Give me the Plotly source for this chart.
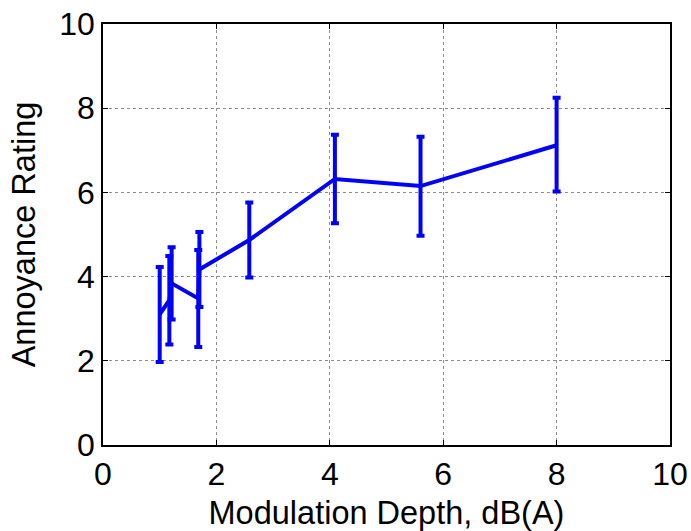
import plotly.graph_objects as go

depth = [1.0, 1.17, 1.21, 1.68, 1.70, 2.58, 4.09, 5.60, 8.0]
rating = [3.10, 3.44, 3.84, 3.48, 4.17, 4.87, 6.32, 6.15, 7.12]
err_up = [1.13, 1.05, 0.86, 1.15, 0.89, 0.89, 1.05, 1.17, 1.13]
err_down = [1.13, 1.05, 0.86, 1.15, 0.89, 0.89, 1.05, 1.18, 1.10]

x_ticks = [0, 2, 4, 6, 8, 10]
y_ticks = [0, 2, 4, 6, 8, 10]

BLUE = "#0000ff"
FONT = "Liberation Sans, Arial, sans-serif"

fig = go.Figure()
fig.add_trace(go.Scatter(
    x=depth, y=rating, mode="lines",
    line=dict(color=BLUE, width=4),
    error_y=dict(type="data", symmetric=False, array=err_up, arrayminus=err_down,
                 color=BLUE, thickness=4, width=4),
    showlegend=False,
))

axis_common = dict(
    showline=True, linecolor="black", linewidth=1.5, mirror="ticks",
    ticks="inside", ticklen=5, tickwidth=1, tickcolor="black",
    showgrid=True, gridcolor="#8c8c8c", gridwidth=1, griddash="dot",
    zeroline=False, automargin=False,
    tickfont=dict(family=FONT, size=32, color="black"),
)

fig.update_layout(
    width=691, height=531,
    margin=dict(l=103, r=21, t=24, b=86),
    paper_bgcolor="white", plot_bgcolor="white",
    font=dict(family=FONT, color="black"),
    xaxis=dict(range=[0, 10], tickvals=x_ticks, ticktext=[str(v) for v in x_ticks],
               title=dict(text="Modulation Depth, dB(A)", font=dict(family=FONT, size=32.5), standoff=12),
               **axis_common),
    yaxis=dict(range=[0, 10], tickvals=y_ticks, ticktext=[str(v) for v in y_ticks],
               title=dict(text="Annoyance Rating", font=dict(family=FONT, size=32.5), standoff=14),
               **axis_common),
)

fig.write_html("out.html")
